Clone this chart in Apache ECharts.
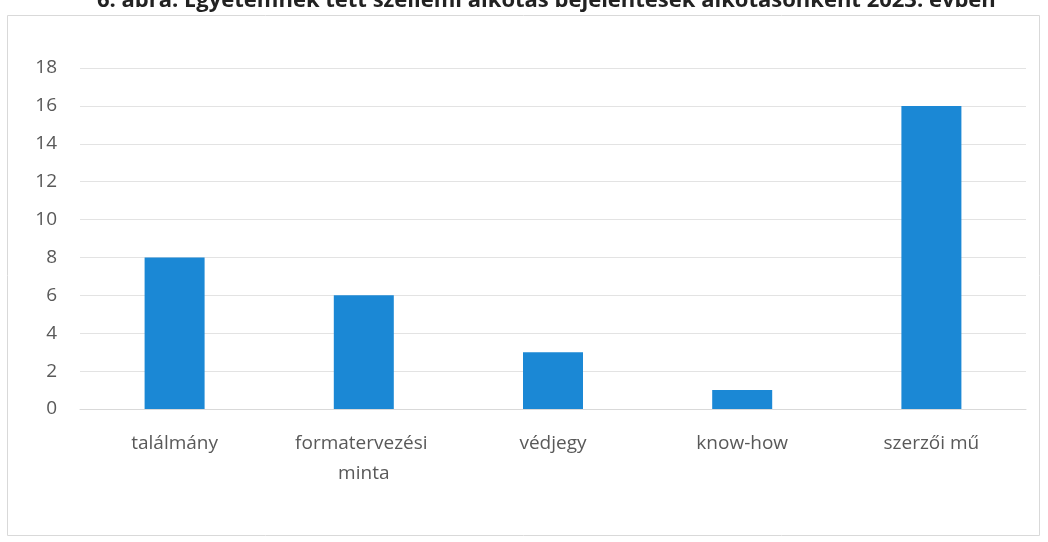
<!DOCTYPE html>
<html><head><meta charset="utf-8">
<script src="https://cdn.jsdelivr.net/npm/echarts@6/dist/echarts.min.js"></script>
<style>html,body{margin:0;padding:0;background:#fff}#c{width:1048px;height:542px}</style>
</head><body><div id="c"></div>
<script>
const titleText = "6. ábra: Egyetemnek tett szellemi alkotás bejelentések alkotásonként 2023. évben";
const categories = ["találmány", "formatervezési minta", "védjegy", "know-how", "szerzői mű"];
const values = [8, 6, 3, 1, 16];
const yTicks = {min: 0, max: 18, interval: 2};

const chart = echarts.init(document.getElementById('c'));
chart.setOption({
  animation: false,
  graphic: [{type: 'rect', shape: {x: 7.5, y: 15.5, width: 1032, height: 520}, style: {fill: 'none', stroke: '#d9d9d9', lineWidth: 1}, z: -1}],
  title: {text: titleText, left: 92, top: -15, textStyle: {fontFamily: 'Open Sans', fontSize: 22, fontWeight: 'bold', color: '#222'}},
  grid: {left: 80, right: 22, top: 68, bottom: 133, containLabel: false},
  xAxis: {type: 'category', data: categories,
    axisLine: {lineStyle: {color: '#d9d9d9'}}, axisTick: {show: false},
    axisLabel: {interval: 0, fontFamily: 'Open Sans', fontSize: 19, color: '#595959', margin: 20, width: 165, overflow: 'break', lineHeight: 30}},
  yAxis: {type: 'value', min: yTicks.min, max: yTicks.max, interval: yTicks.interval,
    axisLine: {show: false}, axisTick: {show: false},
    splitLine: {lineStyle: {color: '#e3e3e3'}},
    axisLabel: {fontFamily: 'Open Sans', fontSize: 19, color: '#595959', margin: 23}},
  series: [{type: 'bar', data: values, barWidth: 60, itemStyle: {color: '#1b88d5'}}]
});
</script></body></html>
